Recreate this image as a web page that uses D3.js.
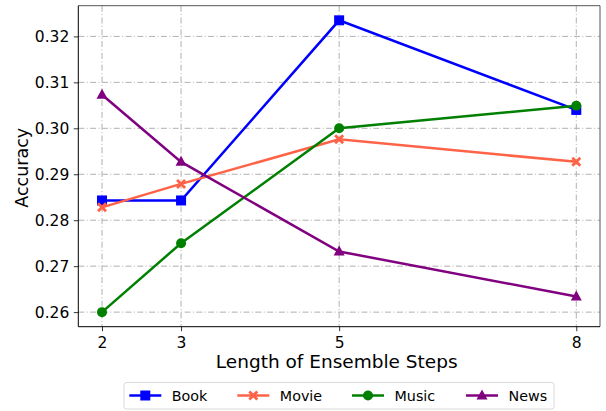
<!DOCTYPE html>
<html>
<head>
<meta charset="utf-8">
<script src="https://cdn.jsdelivr.net/npm/d3@7"></script>
<style>
  body { margin: 0; background: #fff; }
  text { font-family: "DejaVu Sans", sans-serif; fill: #000; }
</style>
</head>
<body>
<div id="chart"></div>
<script>
const steps = [2, 3, 5, 8];
const book = [0.2843, 0.2843, 0.3235, 0.3040];
const movie = [0.2828, 0.2879, 0.2976, 0.2927];
const music = [0.2600, 0.2750, 0.3000, 0.3049];
const news = [0.3073, 0.2927, 0.2732, 0.2634];
const yTicks = [0.26, 0.27, 0.28, 0.29, 0.30, 0.31, 0.32];

const series = [
  { name: "Book", values: book, color: "#0000ff", marker: "square" },
  { name: "Movie", values: movie, color: "#ff6347", marker: "x" },
  { name: "Music", values: music, color: "#008000", marker: "circle" },
  { name: "News", values: news, color: "#800080", marker: "triangle" }
];

const width = 606, height = 411;
const margin = { left: 78.3, right: 6, top: 5.7, bottom: 84.3 };

const svg = d3.select("#chart").append("svg")
  .attr("width", width)
  .attr("height", height);

const x = d3.scaleLinear().domain([1.7, 8.3]).range([margin.left, width - margin.right]);
const y = d3.scaleLinear().domain([0.25683, 0.32668]).range([height - margin.bottom, margin.top]);

// grid
const grid = svg.append("g");
grid.selectAll(".gx").data(steps).enter().append("line")
  .attr("x1", d => x(d)).attr("x2", d => x(d))
  .attr("y1", margin.top).attr("y2", height - margin.bottom)
  .attr("stroke", "#b0b0b0").attr("stroke-width", 1)
  .attr("stroke-dasharray", "6,2.4,1,2.4");
grid.selectAll(".gy").data(yTicks).enter().append("line")
  .attr("x1", margin.left).attr("x2", width - margin.right)
  .attr("y1", d => y(d)).attr("y2", d => y(d))
  .attr("stroke", "#b0b0b0").attr("stroke-width", 1)
  .attr("stroke-dasharray", "6,2.4,1,2.4");

// axes
const xAxis = svg.append("g")
  .attr("transform", `translate(0,${height - margin.bottom})`)
  .call(d3.axisBottom(x).tickValues(steps).tickSize(4.5).tickPadding(5.5).tickFormat(d3.format("d")));
const yAxis = svg.append("g")
  .attr("transform", `translate(${margin.left},0)`)
  .call(d3.axisLeft(y).tickValues(yTicks).tickSize(4.5).tickPadding(4.5).tickFormat(d3.format(".2f")));
[xAxis, yAxis].forEach(a => {
  a.select(".domain").remove();
  a.selectAll("text").attr("font-size", "15.5px").attr("fill", "#000");
  a.selectAll("line").attr("stroke", "#000").attr("stroke-width", 0.8);
});

// frame
svg.append("line").attr("x1", margin.left).attr("x2", width - margin.right)
  .attr("y1", margin.top).attr("y2", margin.top).attr("stroke", "#555").attr("stroke-width", 1);
svg.append("line").attr("x1", width - margin.right).attr("x2", width - margin.right)
  .attr("y1", margin.top).attr("y2", height - margin.bottom).attr("stroke", "#555").attr("stroke-width", 1);
svg.append("line").attr("x1", margin.left).attr("x2", margin.left)
  .attr("y1", margin.top).attr("y2", height - margin.bottom).attr("stroke", "#000").attr("stroke-width", 1);
svg.append("line").attr("x1", margin.left).attr("x2", width - margin.right)
  .attr("y1", height - margin.bottom).attr("y2", height - margin.bottom).attr("stroke", "#000").attr("stroke-width", 1);

// axis labels
svg.append("text")
  .attr("x", 336.7)
  .attr("y", 368.3)
  .attr("text-anchor", "middle")
  .attr("font-size", "18.5px")
  .text("Length of Ensemble Steps");
svg.append("text")
  .attr("transform", `translate(28.3,167.8) rotate(-90)`)
  .attr("text-anchor", "middle")
  .attr("font-size", "17.5px")
  .text("Accuracy");

function drawMarker(g, type, color) {
  if (type === "square") {
    g.append("rect").attr("x", -5).attr("y", -5).attr("width", 10).attr("height", 10).attr("fill", color);
  } else if (type === "circle") {
    g.append("circle").attr("r", 5).attr("fill", color);
  } else if (type === "triangle") {
    g.append("path").attr("d", "M0,-6L5.5,4L-5.5,4Z").attr("fill", color);
  } else {
    const s = 5, t = 2;
    g.append("path")
      .attr("d", `M${-s},${-s + t}L${-s + t},${-s}L0,${-t}L${s - t},${-s}L${s},${-s + t}L${t},0L${s},${s - t}L${s - t},${s}L0,${t}L${-s + t},${s}L${-s},${s - t}L${-t},0Z`)
      .attr("fill", color);
  }
}

const line = d3.line().x((d, i) => x(steps[i])).y(d => y(d));

series.forEach(s => {
  svg.append("path")
    .datum(s.values)
    .attr("d", line)
    .attr("fill", "none")
    .attr("stroke", s.color)
    .attr("stroke-width", 2.5);
  s.values.forEach((v, i) => {
    const g = svg.append("g").attr("transform", `translate(${x(steps[i])},${y(v)})`);
    drawMarker(g, s.marker, s.color);
  });
});

// legend
const legend = svg.append("g");
legend.append("rect")
  .attr("x", 124).attr("y", 382.5).attr("width", 430).attr("height", 26.5)
  .attr("rx", 2.5).attr("fill", "#fff").attr("stroke", "#d9d9d9").attr("stroke-width", 1);
const legendX = [129.3, 237.3, 352, 466];
series.forEach((s, i) => {
  const lg = legend.append("g").attr("transform", `translate(${legendX[i]},395.5)`);
  lg.append("line").attr("x1", 0).attr("x2", 32).attr("stroke", s.color).attr("stroke-width", 2.5);
  const m = lg.append("g").attr("transform", "translate(16,0)");
  drawMarker(m, s.marker, s.color);
  lg.append("text").attr("x", 42.5).attr("y", 0).attr("dy", "0.35em")
    .attr("font-size", "14.3px").text(s.name);
});
</script>
</body>
</html>
